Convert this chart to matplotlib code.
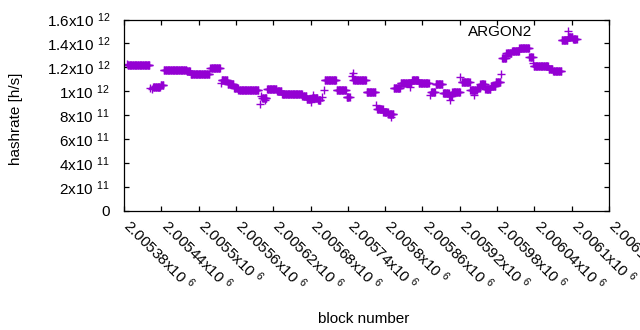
import numpy as np
import matplotlib
matplotlib.use('Agg')
import matplotlib.pyplot as plt
from matplotlib.lines import Line2D
import matplotlib.transforms as mtransforms

plt.rcParams['font.family'] = ['Liberation Sans', 'DejaVu Sans']
plt.rcParams['mathtext.fontset'] = 'custom'
plt.rcParams['mathtext.rm'] = 'Liberation Sans'
plt.rcParams['mathtext.default'] = 'regular'

# runs of blocks with the same hashrate estimate (start block, end block, value h/s)
seg_start = [2005385, 2005386, 2005422, 2005425, 2005427, 2005439, 2005444, 2005481, 2005487, 2005519,
             2005536, 2005537, 2005547, 2005557, 2005564, 2005598, 2005600, 2005602, 2005606, 2005610,
             2005626, 2005634, 2005667, 2005674, 2005681, 2005684, 2005683, 2005692, 2005698, 2005702,
             2005703, 2005722, 2005738, 2005747, 2005748, 2005749, 2005770, 2005786, 2005787, 2005797,
             2005805, 2005810, 2005814, 2005825, 2005840, 2005843, 2005854, 2005872, 2005874, 2005881,
             2005893, 2005903, 2005904, 2005908, 2005921, 2005923, 2005937, 2005943, 2005948, 2005953,
             2005961, 2005970, 2005978, 2005986, 2005988, 2005995, 2006004, 2006016, 2006032, 2006038,
             2006039, 2006063, 2006070, 2006084, 2006094, 2006102]
seg_end = [2005385, 2005421, 2005422, 2005425, 2005438, 2005443, 2005480, 2005486, 2005517, 2005534,
           2005536, 2005546, 2005556, 2005563, 2005596, 2005598, 2005600, 2005609, 2005606, 2005625,
           2005633, 2005666, 2005673, 2005681, 2005681, 2005684, 2005691, 2005696, 2005698, 2005702,
           2005721, 2005737, 2005743, 2005747, 2005748, 2005769, 2005784, 2005786, 2005796, 2005804,
           2005813, 2005810, 2005824, 2005842, 2005840, 2005853, 2005870, 2005872, 2005880, 2005892,
           2005902, 2005907, 2005904, 2005920, 2005921, 2005936, 2005947, 2005943, 2005952, 2005960,
           2005969, 2005977, 2005985, 2005986, 2005994, 2006003, 2006015, 2006031, 2006037, 2006038,
           2006062, 2006069, 2006083, 2006093, 2006101, 2006108]
seg_value = [1.232e12, 1.217e12, 1.028e12, 1.017e12, 1.032e12, 1.050e12, 1.178e12, 1.167e12, 1.142e12, 1.192e12,
             1.072e12, 1.092e12, 1.058e12, 1.025e12, 1.008e12, 8.94e11, 9.58e11, 9.44e11, 9.27e11, 1.017e12,
             1.000e12, 9.80e11, 9.61e11, 9.38e11, 9.13e11, 9.69e11, 9.48e11, 9.27e11, 9.55e11, 1.010e12,
             1.092e12, 1.008e12, 9.55e11, 1.128e12, 1.150e12, 1.092e12, 9.94e11, 8.86e11, 8.54e11, 8.25e11,
             8.13e11, 7.85e11, 1.030e12, 1.069e12, 1.033e12, 1.092e12, 1.069e12, 9.72e11, 9.92e11, 1.058e12,
             9.83e11, 9.58e11, 9.27e11, 9.94e11, 1.117e12, 1.078e12, 1.008e12, 9.69e11, 1.028e12, 1.061e12,
             1.022e12, 1.044e12, 1.075e12, 1.145e12, 1.278e12, 1.322e12, 1.339e12, 1.364e12, 1.289e12, 1.234e12,
             1.209e12, 1.189e12, 1.170e12, 1.426e12, 1.456e12, 1.440e12]

x_ticks = [2005380, 2005440, 2005500, 2005560, 2005620, 2005680, 2005740,
           2005800, 2005860, 2005920, 2005980, 2006040, 2006100, 2006160]
x_tick_labels = ['2.00538', '2.00544', '2.0055', '2.00556', '2.00562', '2.00568', '2.00574',
                 '2.0058', '2.00586', '2.00592', '2.00598', '2.00604', '2.0061', '2.00616']
x_tick_exp = ['6'] * 14
y_ticks = [0, 2e11, 4e11, 6e11, 8e11, 1e12, 1.2e12, 1.4e12, 1.6e12]
y_tick_labels = ['0', '2x10', '4x10', '6x10', '8x10', '1x10', '1.2x10', '1.4x10', '1.6x10']
y_tick_exp = ['', '11', '11', '11', '11', '12', '12', '12', '12']

series_name = 'ARGON2'
color = '#9400d3'

blocks = np.concatenate([np.arange(s, e + 1) for s, e in zip(seg_start, seg_end)])
values = np.concatenate([np.full(e - s + 1, v) for s, e, v in zip(seg_start, seg_end, seg_value)])

W, H = 640, 330
fig = plt.figure(figsize=(W / 100, H / 100), dpi=100)
ax = fig.add_axes([124 / W, 119 / H, 485 / W, 191.5 / H])

ax.plot(blocks, values, linestyle='none', marker='+', markersize=5.2,
        markeredgewidth=1.0, color=color)

ax.set_xlim(x_ticks[0], x_ticks[-1])
ax.set_ylim(y_ticks[0], y_ticks[-1])

for sp in ax.spines.values():
    sp.set_linewidth(0.9)
    sp.set_color('black')

ax.tick_params(direction='in', length=3.3, width=0.9, top=True, right=True,
               labelsize=11, colors='black')
ax.set_yticks(y_ticks)
ax.set_yticklabels([lab if not ex else lab + r' $^{' + ex + '}$'
                    for lab, ex in zip(y_tick_labels, y_tick_exp)])
ax.tick_params(axis='y', pad=10)

ax.set_xticks(x_ticks)
ax.set_xticklabels([])
off = mtransforms.ScaledTranslation(2.0 / 72, -8.5 / 72, fig.dpi_scale_trans)
for t, lab, ex in zip(x_ticks, x_tick_labels, x_tick_exp):
    ax.text(t, 0, lab + r'x10 $^{' + ex + '}$', transform=ax.get_xaxis_transform() + off,
            rotation=-45, rotation_mode='anchor', ha='left', va='center',
            fontsize=11, clip_on=False)

ax.set_xlabel('block number', fontsize=11, va='center')
ax.xaxis.set_label_coords((364 - 124) / 485, (211 - 319) / 191.5)
ax.set_ylabel('hashrate [h/s]', fontsize=11, va='center')
ax.yaxis.set_label_coords((16 - 124) / 485, (211 - 119) / 191.5)

handle = Line2D([], [], linestyle='none', marker='+', markersize=5.2,
                markeredgewidth=1.0, color=color)
ax.legend([handle], [series_name], loc='center right',
          bbox_to_anchor=((583.3 - 124) / 485, (211 - 32) / 191.5),
          markerfirst=False, frameon=False, fontsize=11, handlelength=2.0,
          handletextpad=1.35, borderpad=0, borderaxespad=0, numpoints=1)

fig.savefig('out.png', dpi=100)
